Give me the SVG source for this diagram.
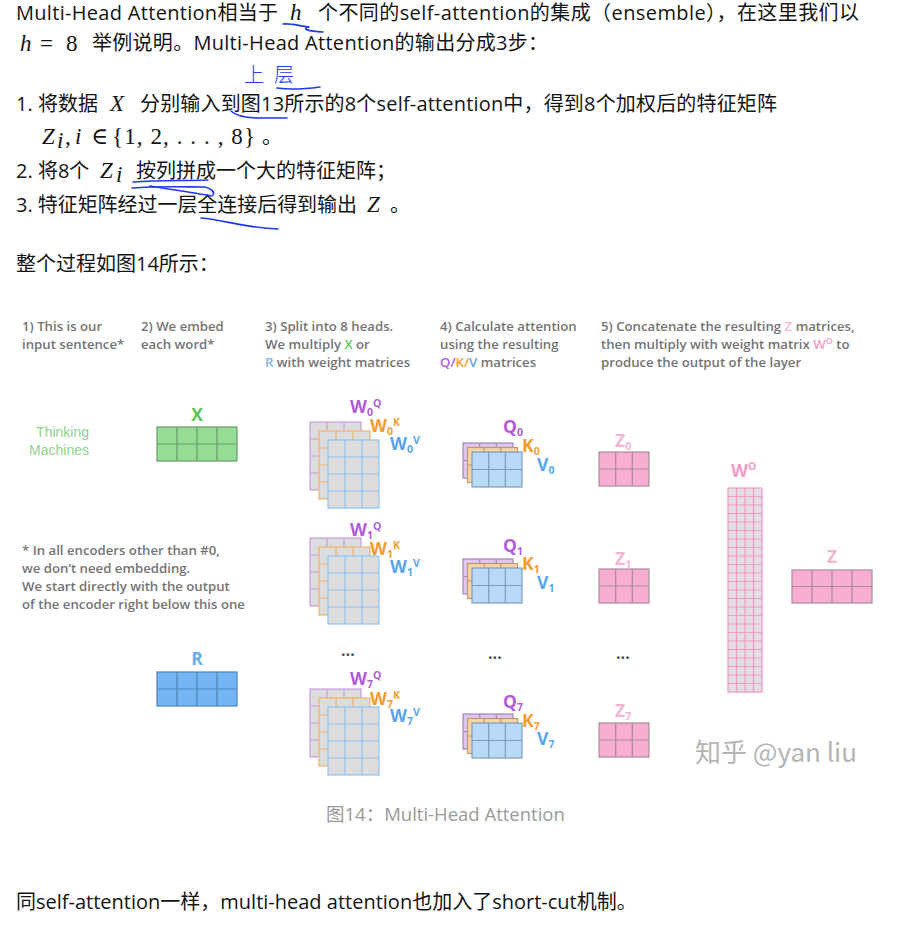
<svg xmlns="http://www.w3.org/2000/svg" width="906" height="936" viewBox="0 0 906 936">
<style>
.body{font-family:"Open Sans","Noto Sans CJK SC",sans-serif;font-size:20px;fill:#141414}
.math{font-family:"Liberation Serif","DejaVu Serif",serif;font-size:23px;font-style:italic;fill:#141414}
.mathr{font-family:"Liberation Serif","DejaVu Serif",serif;font-size:23px;fill:#141414}
.hand{fill:none;stroke:#1e3ae8;stroke-width:1.6;stroke-linecap:round;stroke-linejoin:round}
.handt{font-family:"Noto Sans CJK SC",sans-serif;font-size:20px;font-weight:300;fill:#1e3ae8}
.hd{font-family:"Open Sans",sans-serif;font-size:13.2px;font-weight:600;fill:#747474}
.lbl{font-family:"Open Sans",sans-serif;font-size:17.5px;font-weight:700}
.sm{font-size:10.5px}
.pu{fill:#b15cd8}.or{fill:#f39c2e}.bl{fill:#5aa6ec}.pk{fill:#f29cc8}.pkl{fill:#f6b3d2}
.gl{fill:none;stroke-width:1.2}
</style>
<defs>
<g id="wst">
<rect width="51" height="68" fill="#dcdcdc" stroke="#c59ddf" stroke-width="1.2"/>
<path class="gl" stroke="#c59ddf" d="M17,0V68M34,0V68M0,17H51M0,34H51M0,51H51"/>
<g transform="translate(9,9)">
<rect width="51" height="68" fill="#dcdcdc" stroke="#f2b367" stroke-width="1.2"/>
<path class="gl" stroke="#f2b367" d="M17,0V68M34,0V68M0,17H51M0,34H51M0,51H51"/>
</g>
<g transform="translate(18,18)">
<rect width="51" height="68" fill="#dcdcdc" stroke="#8ec3f2" stroke-width="1.2"/>
<path class="gl" stroke="#8ec3f2" d="M17,0V68M34,0V68M0,17H51M0,34H51M0,51H51"/>
</g>
</g>
<g id="qst">
<rect width="50" height="35" fill="#dfc6f0" stroke="#a088b5" stroke-width="1.2"/>
<path class="gl" stroke="#a088b5" d="M16.7,0V35M33.3,0V35M0,17.5H50"/>
<g transform="translate(4.5,4.5)">
<rect width="50" height="35" fill="#f8d3a4" stroke="#c09a6a" stroke-width="1.2"/>
<path class="gl" stroke="#c09a6a" d="M16.7,0V35M33.3,0V35M0,17.5H50"/>
</g>
<g transform="translate(9,9)">
<rect width="50" height="35" fill="#b8daf7" stroke="#7d9cbc" stroke-width="1.2"/>
<path class="gl" stroke="#7d9cbc" d="M16.7,0V35M33.3,0V35M0,17.5H50"/>
</g>
</g>
<g id="zm">
<rect width="50" height="34" fill="#f7aed2" stroke="#a98a9c" stroke-width="1.2"/>
<path class="gl" stroke="#a98a9c" d="M16.7,0V34M33.3,0V34M0,17H50"/>
</g>
</defs>
<rect width="906" height="936" fill="#ffffff"/>

<g id="article-text">
<text class="body" x="16" y="20" textLength="262" lengthAdjust="spacing">Multi-Head Attention相当于</text>
<text class="math" x="290" y="20">h</text>
<text class="body" x="318" y="20" textLength="541" lengthAdjust="spacing">个不同的self-attention的集成（ensemble），在这里我们以</text>
<text class="math" x="20" y="51">h</text><text class="mathr" x="40" y="51">=</text><text class="mathr" x="66" y="51">8</text>
<text class="body" x="92" y="50" textLength="456" lengthAdjust="spacing">举例说明。Multi-Head Attention的输出分成3步：</text>
<text class="body" x="16" y="111">1. 将数据</text>
<text class="math" x="110" y="111">X</text>
<text class="body" x="140" y="111" textLength="637" lengthAdjust="spacing">分别输入到图13所示的8个self-attention中，得到8个加权后的特征矩阵</text>
<text class="math" x="42" y="144">Z</text>
<text class="math" x="57" y="148" font-size="14">i</text>
<text class="mathr" x="65" y="144">,</text>
<text class="math" x="75" y="144">i</text>
<text class="mathr" x="91" y="144">∈</text>
<text class="mathr" x="112" y="144" textLength="143" lengthAdjust="spacing">{1, 2, . . . , 8}</text>
<text class="body" x="262" y="144">。</text>
<text class="body" x="16" y="178">2. 将8个</text>
<text class="math" x="100" y="178">Z</text>
<text class="math" x="116" y="182" font-size="14">i</text>
<text class="body" x="136" y="178">按列拼成一个大的特征矩阵；</text>
<text class="body" x="16" y="212" textLength="341" lengthAdjust="spacing">3. 特征矩阵经过一层全连接后得到输出</text>
<text class="math" x="367" y="212">Z</text>
<text class="body" x="390" y="212">。</text>
<text class="body" x="16" y="271">整个过程如图14所示：</text>
<text class="body" x="16" y="909" font-size="21">同self-attention一样，multi-head attention也加入了short-cut机制。</text>
</g>

<g id="handwriting">
<path class="hand" d="M283,24 C291,23 299,26 309,27 C301,29 308,31 323,32"/>
<text class="handt" x="244" y="82" letter-spacing="10">上层</text>
<path class="hand" d="M277,88 C290,90 305,89 320,87"/>
<path class="hand" d="M231,111 C236,116 245,118 260,118 L287,118"/>
<path class="hand" d="M133,182 C160,180 190,181 208,180"/>
<path class="hand" d="M132,188 C160,186 185,187 205,187 C212,189 215,192 213,195"/>
<path class="hand" d="M150,186 C175,190 195,193 212,196"/>
<path class="hand" d="M201,218 C225,220 245,228 278,229"/>
</g>

<g id="headers">
<text class="hd" x="22" y="331">1) This is our</text>
<text class="hd" x="22" y="349">input sentence*</text>
<text class="hd" x="141" y="331">2) We embed</text>
<text class="hd" x="141" y="349">each word*</text>
<text class="hd" x="265" y="331">3) Split into 8 heads.</text>
<text class="hd" x="265" y="349">We multiply <tspan fill="#5cc85c">X</tspan> or</text>
<text class="hd" x="265" y="367"><tspan fill="#7ab8f0">R</tspan> with weight matrices</text>
<text class="hd" x="440" y="331">4) Calculate attention</text>
<text class="hd" x="440" y="349">using the resulting</text>
<text class="hd" x="440" y="367"><tspan class="pu">Q/</tspan><tspan class="or">K/</tspan><tspan class="bl">V</tspan> matrices</text>
<text class="hd" x="601" y="331">5) Concatenate the resulting <tspan class="pkl">Z</tspan> matrices,</text>
<text class="hd" x="601" y="349">then multiply with weight matrix <tspan class="pk">W</tspan><tspan class="pk" font-size="9" dy="-5">O</tspan><tspan dy="5"> to</tspan></text>
<text class="hd" x="601" y="367">produce the output of the layer</text>
</g>

<g id="input-sentence">
<text x="89" y="437" text-anchor="end" font-family="Liberation Sans,sans-serif" font-size="14" fill="#8fd28f">Thinking</text>
<text x="89" y="455" text-anchor="end" font-family="Liberation Sans,sans-serif" font-size="14" fill="#8fd28f">Machines</text>
</g>

<g id="footnote">
<text class="hd" x="22" y="555">* In all encoders other than #0,</text>
<text class="hd" x="22" y="573">we don’t need embedding.</text>
<text class="hd" x="22" y="591">We start directly with the output</text>
<text class="hd" x="22" y="609">of the encoder right below this one</text>
</g>

<g id="embed-x">
<text class="lbl" x="197" y="421" text-anchor="middle" fill="#55c455">X</text>
<rect x="157" y="427" width="80" height="34" fill="#95dc95" stroke="#6a9b6a" stroke-width="1.2"/>
<path class="gl" stroke="#6a9b6a" d="M177,427V461M197,427V461M217,427V461M157,444H237"/>
</g>

<g id="embed-r">
<text class="lbl" x="197" y="665" text-anchor="middle" fill="#6aaeea">R</text>
<rect x="157" y="672" width="80" height="34" fill="#74b6f4" stroke="#4f82b3" stroke-width="1.2"/>
<path class="gl" stroke="#4f82b3" d="M177,672V706M197,672V706M217,672V706M157,689H237"/>
</g>

<g id="head0-weights">
<use href="#wst" x="310" y="422"/>
<text class="lbl pu" x="350" y="413">W<tspan class="sm" dy="3">0</tspan><tspan class="sm" dy="-9">Q</tspan></text>
<text class="lbl or" x="370" y="432">W<tspan class="sm" dy="3">0</tspan><tspan class="sm" dy="-9">K</tspan></text>
<text class="lbl bl" x="390" y="450">W<tspan class="sm" dy="3">0</tspan><tspan class="sm" dy="-9">V</tspan></text>
</g>
<g id="head1-weights">
<use href="#wst" x="310" y="538"/>
<text class="lbl pu" x="350" y="536">W<tspan class="sm" dy="3">1</tspan><tspan class="sm" dy="-9">Q</tspan></text>
<text class="lbl or" x="370" y="555">W<tspan class="sm" dy="3">1</tspan><tspan class="sm" dy="-9">K</tspan></text>
<text class="lbl bl" x="390" y="573">W<tspan class="sm" dy="3">1</tspan><tspan class="sm" dy="-9">V</tspan></text>
</g>
<g id="head7-weights">
<use href="#wst" x="310" y="689"/>
<text class="lbl pu" x="350" y="685">W<tspan class="sm" dy="3">7</tspan><tspan class="sm" dy="-9">Q</tspan></text>
<text class="lbl or" x="370" y="705">W<tspan class="sm" dy="3">7</tspan><tspan class="sm" dy="-9">K</tspan></text>
<text class="lbl bl" x="390" y="722">W<tspan class="sm" dy="3">7</tspan><tspan class="sm" dy="-9">V</tspan></text>
</g>

<g id="head0-qkv">
<use href="#qst" x="463" y="443"/>
<text class="lbl pu" x="503" y="433">Q<tspan class="sm" dy="3">0</tspan></text>
<text class="lbl or" x="522" y="452">K<tspan class="sm" dy="3">0</tspan></text>
<text class="lbl bl" x="537" y="471">V<tspan class="sm" dy="3">0</tspan></text>
</g>
<g id="head1-qkv">
<use href="#qst" x="463" y="559"/>
<text class="lbl pu" x="503" y="552">Q<tspan class="sm" dy="3">1</tspan></text>
<text class="lbl or" x="522" y="570">K<tspan class="sm" dy="3">1</tspan></text>
<text class="lbl bl" x="537" y="589">V<tspan class="sm" dy="3">1</tspan></text>
</g>
<g id="head7-qkv">
<use href="#qst" x="463" y="714"/>
<text class="lbl pu" x="503" y="708">Q<tspan class="sm" dy="3">7</tspan></text>
<text class="lbl or" x="522" y="727">K<tspan class="sm" dy="3">7</tspan></text>
<text class="lbl bl" x="537" y="745">V<tspan class="sm" dy="3">7</tspan></text>
</g>

<g id="ellipses" font-family="Open Sans,sans-serif" font-size="16" font-weight="700" fill="#555">
<text x="341" y="656">...</text>
<text x="488" y="659">...</text>
<text x="616" y="659">...</text>
</g>

<g id="z0">
<text class="lbl pkl" x="615" y="447" font-weight="600">Z<tspan class="sm" dy="3">0</tspan></text>
<use href="#zm" x="599" y="452"/>
</g>
<g id="z1">
<text class="lbl pkl" x="615" y="565" font-weight="600">Z<tspan class="sm" dy="3">1</tspan></text>
<use href="#zm" x="599" y="569"/>
</g>
<g id="z7">
<text class="lbl pkl" x="615" y="717" font-weight="600">Z<tspan class="sm" dy="3">7</tspan></text>
<use href="#zm" x="599" y="723"/>
</g>

<g id="wo">
<text class="lbl pk" x="731" y="477">W<tspan class="sm" dy="-7">O</tspan></text>
<g transform="translate(728,488)">
<rect width="34" height="204" fill="#e2dde0" stroke="#f29ac6" stroke-width="1.2"/>
<path class="gl" stroke="#f29ac6" d="M8.5,0V204M17,0V204M25.5,0V204M0,8.5h34m-34,8.5h34m-34,8.5h34m-34,8.5h34m-34,8.5h34m-34,8.5h34m-34,8.5h34m-34,8.5h34m-34,8.5h34m-34,8.5h34m-34,8.5h34m-34,8.5h34m-34,8.5h34m-34,8.5h34m-34,8.5h34m-34,8.5h34m-34,8.5h34m-34,8.5h34m-34,8.5h34m-34,8.5h34m-34,8.5h34m-34,8.5h34m-34,8.5h34"/>
</g>
</g>

<g id="z-out">
<text class="lbl pkl" x="832" y="563" text-anchor="middle" font-weight="600">Z</text>
<rect x="792" y="570" width="80" height="33" fill="#f7aed2" stroke="#a98a9c" stroke-width="1.2"/>
<path class="gl" stroke="#a98a9c" d="M812,570V603M832,570V603M852,570V603M792,586.5H872"/>
</g>

<g id="watermark">
<text x="695" y="762" font-family="Noto Sans CJK SC,sans-serif" font-size="26" fill="#b4b4b4">知乎 @yan liu</text>
</g>

<g id="caption">
<text x="326" y="821" font-family="Open Sans,Noto Sans CJK SC,sans-serif" font-size="18.5" fill="#9a9a9a">图14：Multi-Head Attention</text>
</g>

<g id="connectors"/>
</svg>
